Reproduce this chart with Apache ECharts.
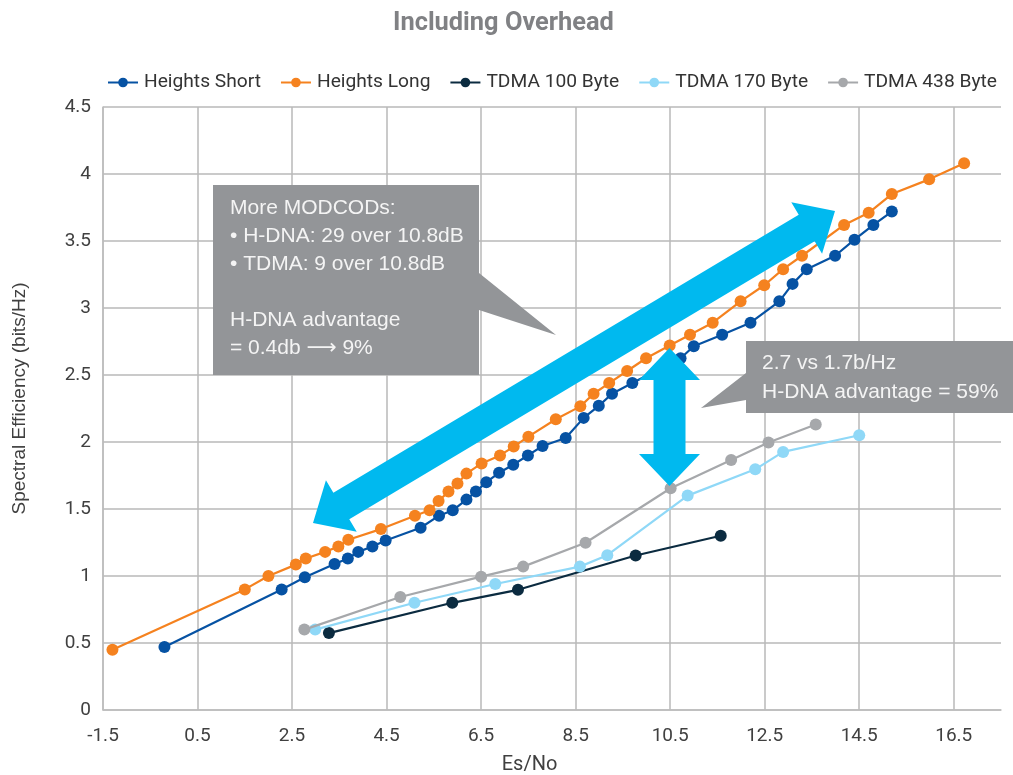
<!DOCTYPE html>
<html>
<head>
<meta charset="utf-8">
<script src="https://cdn.jsdelivr.net/npm/echarts@6/dist/echarts.min.js"></script>
<style>
html,body{margin:0;padding:0;background:#fff;}
#main{width:1013px;height:775px;}
</style>
</head>
<body>
<div id="main"></div>
<script>
// ---- data ----
const seriesNames = ['Heights Short', 'Heights Long', 'TDMA 100 Byte', 'TDMA 170 Byte', 'TDMA 438 Byte'];

const shortX = [-0.2, 2.28, 2.77, 3.4, 3.68, 3.9, 4.2, 4.48, 5.22, 5.61, 5.9, 6.19, 6.39, 6.61, 6.88, 7.18, 7.49, 7.8, 8.29, 8.67, 8.99, 9.27, 9.7, 10.72, 11.0, 11.6, 12.2, 12.81, 13.09, 13.39, 13.99, 14.4, 14.8, 15.19];
const shortY = [0.47, 0.90, 0.99, 1.09, 1.13, 1.18, 1.22, 1.265, 1.36, 1.45, 1.49, 1.57, 1.63, 1.70, 1.77, 1.83, 1.90, 1.97, 2.03, 2.18, 2.27, 2.36, 2.44, 2.625, 2.715, 2.80, 2.89, 3.05, 3.18, 3.29, 3.39, 3.51, 3.62, 3.72];

const longX = [-1.3, 1.5, 2.0, 2.58, 2.79, 3.2, 3.48, 3.69, 4.38, 5.1, 5.41, 5.6, 5.81, 6.0, 6.19, 6.51, 6.9, 7.19, 7.5, 8.08, 8.6, 8.88, 9.21, 9.59, 9.99, 10.49, 10.92, 11.4, 11.99, 12.49, 12.89, 13.29, 14.18, 14.7, 15.19, 15.98, 16.72];
const longY = [0.45, 0.90, 1.0, 1.085, 1.13, 1.18, 1.22, 1.27, 1.35, 1.45, 1.49, 1.56, 1.63, 1.69, 1.764, 1.84, 1.90, 1.966, 2.04, 2.17, 2.266, 2.36, 2.44, 2.53, 2.625, 2.72, 2.80, 2.89, 3.05, 3.17, 3.29, 3.39, 3.62, 3.71, 3.85, 3.96, 4.08];

const tdma100X = [3.28, 5.89, 7.28, 9.77, 11.57];
const tdma100Y = [0.574, 0.80, 0.897, 1.153, 1.30];

const tdma170X = [2.99, 5.09, 6.8, 8.59, 9.17, 10.87, 12.3, 12.89, 14.5];
const tdma170Y = [0.60, 0.80, 0.94, 1.07, 1.155, 1.60, 1.796, 1.926, 2.05];

const tdma438X = [2.76, 4.79, 6.5, 7.39, 8.71, 10.51, 11.79, 12.58, 13.58];
const tdma438Y = [0.60, 0.843, 0.995, 1.07, 1.248, 1.655, 1.866, 1.996, 2.13];

const seriesColors = ['#0652a3', '#f5821f', '#0b2b40', '#8fd8f7', '#a6a8ab'];

const titleText = 'Including Overhead';
const xAxisName = 'Es/No';
const yAxisName = 'Spectral Efficiency (bits/Hz)';
const callout1Text = 'More MODCODs:\n• H-DNA: 29 over 10.8dB\n• TDMA: 9 over 10.8dB\n\nH-DNA advantage\n= 0.4db \u27F6 9%';
const callout2Text = '2.7 vs 1.7b/Hz\nH-DNA advantage = 59%';

// ---- helpers ----
function zip(xs, ys) { return xs.map((x, i) => [x, ys[i]]); }
const allData = [zip(shortX, shortY), zip(longX, longY), zip(tdma100X, tdma100Y), zip(tdma170X, tdma170Y), zip(tdma438X, tdma438Y)];

const cv = document.createElement('canvas').getContext('2d');
function fitSize(family, weight, text, target) {
  cv.font = weight + ' 100px ' + family;
  return Math.round(100 * target / cv.measureText(text).width * 10) / 10;
}

function doubleArrow(p1, p2, headLen, headHalf, shaftHalf) {
  const dx = p2[0] - p1[0], dy = p2[1] - p1[1];
  const L = Math.hypot(dx, dy);
  const d = [dx / L, dy / L];
  const n = [-d[1], d[0]];
  const b2 = [p2[0] - d[0] * headLen, p2[1] - d[1] * headLen];
  const b1 = [p1[0] + d[0] * headLen, p1[1] + d[1] * headLen];
  const off = (b, s) => [b[0] + n[0] * s, b[1] + n[1] * s];
  return [p2, off(b2, headHalf), off(b2, shaftHalf), off(b1, shaftHalf), off(b1, headHalf), p1,
          off(b1, -headHalf), off(b1, -shaftHalf), off(b2, -shaftHalf), off(b2, -headHalf)];
}

const cond = 'Roboto, "DejaVu Sans Condensed", sans-serif';
const regular = '"Liberation Sans", Arial, "DejaVu Sans", sans-serif';
const titleSize = fitSize(cond, 'bold', titleText, 221);
const legendSize = fitSize(cond, 'normal', 'Heights Short', 117);
const tickSize = 19;
const xNameSize = 20;
const yNameSize = fitSize(regular, 'normal', yAxisName, 232);
const boxGray = '#939598';
const arrowColor = '#00b9ef';

const chart = echarts.init(document.getElementById('main'), null, { renderer: 'canvas' });

const option = {
  backgroundColor: '#ffffff',
  animation: false,
  title: {
    text: titleText,
    left: 388,
    top: 6,
    textStyle: { fontFamily: cond, fontSize: titleSize, fontWeight: 'bold', color: '#808184' }
  },
  legend: {
    data: seriesNames,
    left: 102,
    top: 68,
    itemWidth: 30,
    itemHeight: 12,
    itemGap: 19,
    textStyle: { fontFamily: cond, fontSize: legendSize, color: '#333333', padding: [0, 0, 0, 1] }
  },
  grid: { left: 103, right: 12, top: 107, bottom: 65, containLabel: false, outerBoundsMode: 'none' },
  xAxis: {
    type: 'value',
    min: -1.5, max: 17.5, interval: 2,
    name: xAxisName,
    nameLocation: 'middle',
    nameGap: 45,
    nameTextStyle: { fontFamily: cond, fontSize: xNameSize, color: '#404040', padding: [0, 45, 0, 0] },
    axisLine: { show: true, onZero: false, lineStyle: { color: '#bdbdbd', width: 1.5 } },
    axisTick: { show: false },
    axisLabel: { fontFamily: cond, fontSize: tickSize, color: '#404040', margin: 17, showMaxLabel: false },
    splitLine: { show: true, showMaxLine: false, lineStyle: { color: '#b8b8b8', width: 1.5 } }
  },
  yAxis: {
    type: 'value',
    min: 0, max: 4.5, interval: 0.5,
    name: yAxisName,
    nameLocation: 'middle',
    nameGap: 74,
    nameTextStyle: { fontFamily: regular, fontSize: yNameSize, color: '#404040', padding: [0, 0, 0, 20] },
    axisLine: { show: true, onZero: false, lineStyle: { color: '#bdbdbd', width: 1.5 } },
    axisTick: { show: false },
    axisLabel: { fontFamily: cond, fontSize: tickSize, color: '#404040', margin: 12 },
    splitLine: { show: true, lineStyle: { color: '#b8b8b8', width: 1.5 } }
  },
  series: seriesNames.map((name, i) => ({
    name: name,
    type: 'line',
    data: allData[i],
    color: seriesColors[i],
    symbol: 'circle',
    symbolSize: 12,
    showSymbol: true,
    lineStyle: { width: 2.2, color: seriesColors[i] },
    itemStyle: { color: seriesColors[i] },
    z: 2 + i
  })),
  graphic: [
    {
      type: 'polygon', z: 100,
      shape: { points: [[213,185],[479,185],[479,273],[556,335],[479,310],[479,375],[213,375]] },
      style: { fill: boxGray }
    },
    {
      type: 'text', z: 101, left: 230, top: 194,
      style: { text: callout1Text, fill: '#f4f4f4', font: '21px ' + regular, lineHeight: 28 }
    },
    {
      type: 'polygon', z: 100,
      shape: { points: [[746,341],[1013,341],[1013,413],[746,413],[746,400],[701,408],[746,373]] },
      style: { fill: boxGray }
    },
    {
      type: 'text', z: 101, left: 762, top: 349,
      style: { text: callout2Text, fill: '#f4f4f4', font: '21px ' + regular, lineHeight: 28.5 }
    },
    {
      type: 'polygon', z: 102,
      shape: { points: doubleArrow([313,523], [835,211], 33, 30, 15.5) },
      style: { fill: arrowColor }
    },
    {
      type: 'polygon', z: 102,
      shape: { points: doubleArrow([669.5,486], [669.5,348], 32, 30.5, 16) },
      style: { fill: arrowColor }
    }
  ]
};
chart.setOption(option);
</script>
</body>
</html>
